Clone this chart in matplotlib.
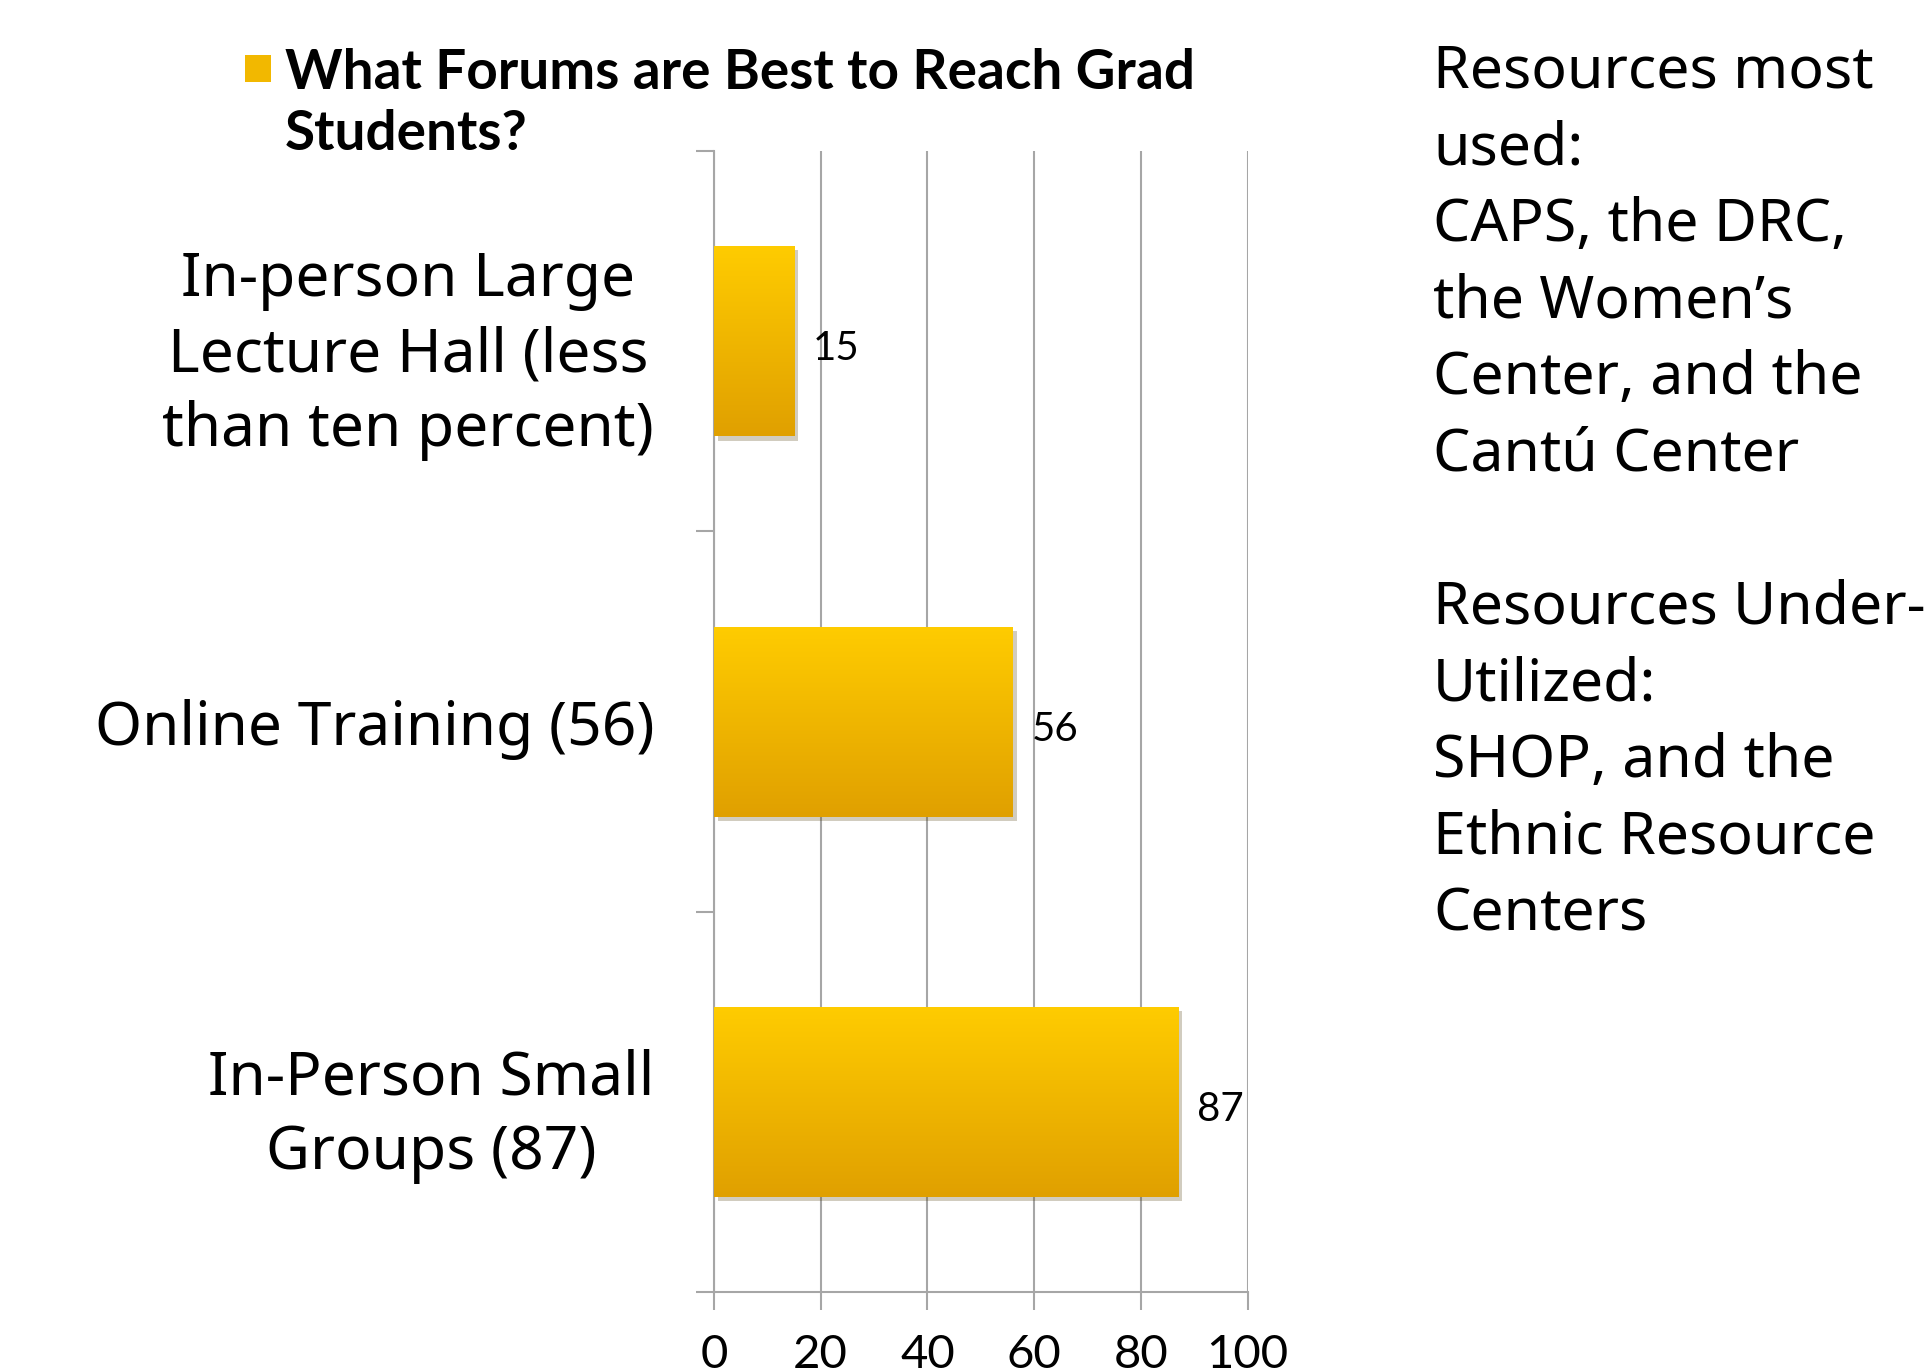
import numpy as np
import matplotlib
matplotlib.use("Agg")
import matplotlib.pyplot as plt
import matplotlib.patheffects as pe
from matplotlib.colors import LinearSegmentedColormap

categories = ["In-person Large\nLecture Hall (less\nthan ten percent)",
              "Online Training (56)",
              "In-Person Small\nGroups (87)"]
values = [15, 56, 87]
xticks = [0, 20, 40, 60, 80, 100]
legend_label = "What Forums are Best to Reach Grad\nStudents?"
side_text = ("Resources most\nused:\nCAPS, the DRC,\nthe Women\u2019s\nCenter, and the\nCant\u00fa Center\n\n"
             "Resources Under-\nUtilized:\nSHOP, and the\nEthnic Resource\nCenters")

grid_col = "#A6A6A6"
cmap = LinearSegmentedColormap.from_list("gold", ["#E0A000", "#FFCC00"])

fig = plt.figure(figsize=(19.27, 13.70), dpi=100)
ax = fig.add_axes([0.3705, 0.0569, 0.2769, 0.8328])

pos = np.arange(len(values))
bars = ax.barh(pos, values, height=0.5, color="#F2B800", zorder=3,
               path_effects=[pe.SimplePatchShadow(offset=(3, -3), alpha=0.25), pe.Normal()])

# vertical gold gradient inside each bar
grad = np.linspace(0, 1, 256).reshape(-1, 1)
for b in bars:
    x0, y0 = b.get_x(), b.get_y()
    w, h = b.get_width(), b.get_height()
    im = ax.imshow(grad, cmap=cmap, aspect="auto", origin="upper",
                   extent=[x0, x0 + w, y0, y0 + h], zorder=4)
    im.set_clip_path(b)

for p, v in zip(pos, values):
    ax.text(v + 3.5, p + 0.02, str(v), va="center", ha="left",
            fontsize=29, family="Lato", zorder=5)

ax.set_xlim(0, 100)
ax.set_ylim(2.5, -0.5)
ax.set_xticks(xticks)
ax.set_xticklabels([str(t) for t in xticks], fontsize=34, family="Lato")
ax.tick_params(axis="x", length=13, width=1.5, color=grid_col, pad=17)
ax.set_yticks(pos)
ax.set_yticklabels(categories, fontsize=43.5, family="Noto Sans",
                   multialignment="center", linespacing=1.3)
for lbl in ax.get_yticklabels():
    lbl.set_y(lbl.get_position()[1])
ax.set_yticks([-0.5, 0.5, 1.5, 2.5], minor=True)
ax.tick_params(axis="y", which="major", length=0, pad=43)
ax.tick_params(axis="y", which="minor", length=13, width=1.5, color=grid_col)
ax.grid(axis="x", color=grid_col, linewidth=1.5, zorder=0)
ax.set_axisbelow(True)
for s in ["top", "right"]:
    ax.spines[s].set_visible(False)
for s in ["left", "bottom"]:
    ax.spines[s].set_color(grid_col)
    ax.spines[s].set_linewidth(1.5)

# legend
fig.patches.append(plt.Rectangle((245 / 1927, 1 - 82 / 1370), 26 / 1927, 27 / 1370,
                                 transform=fig.transFigure, facecolor="#F2B800",
                                 edgecolor="none"))
fig.text(285 / 1927, 1 - 48 / 1370, legend_label, ha="left", va="top",
         fontsize=39.5, fontweight="bold", family="Lato", linespacing=1.28)

fig.text(1433 / 1927, 1 - 43 / 1370, side_text, ha="left", va="top",
         fontsize=42.5, family="Noto Sans", linespacing=1.39)

fig.savefig("out.png", dpi=100, facecolor="white")
